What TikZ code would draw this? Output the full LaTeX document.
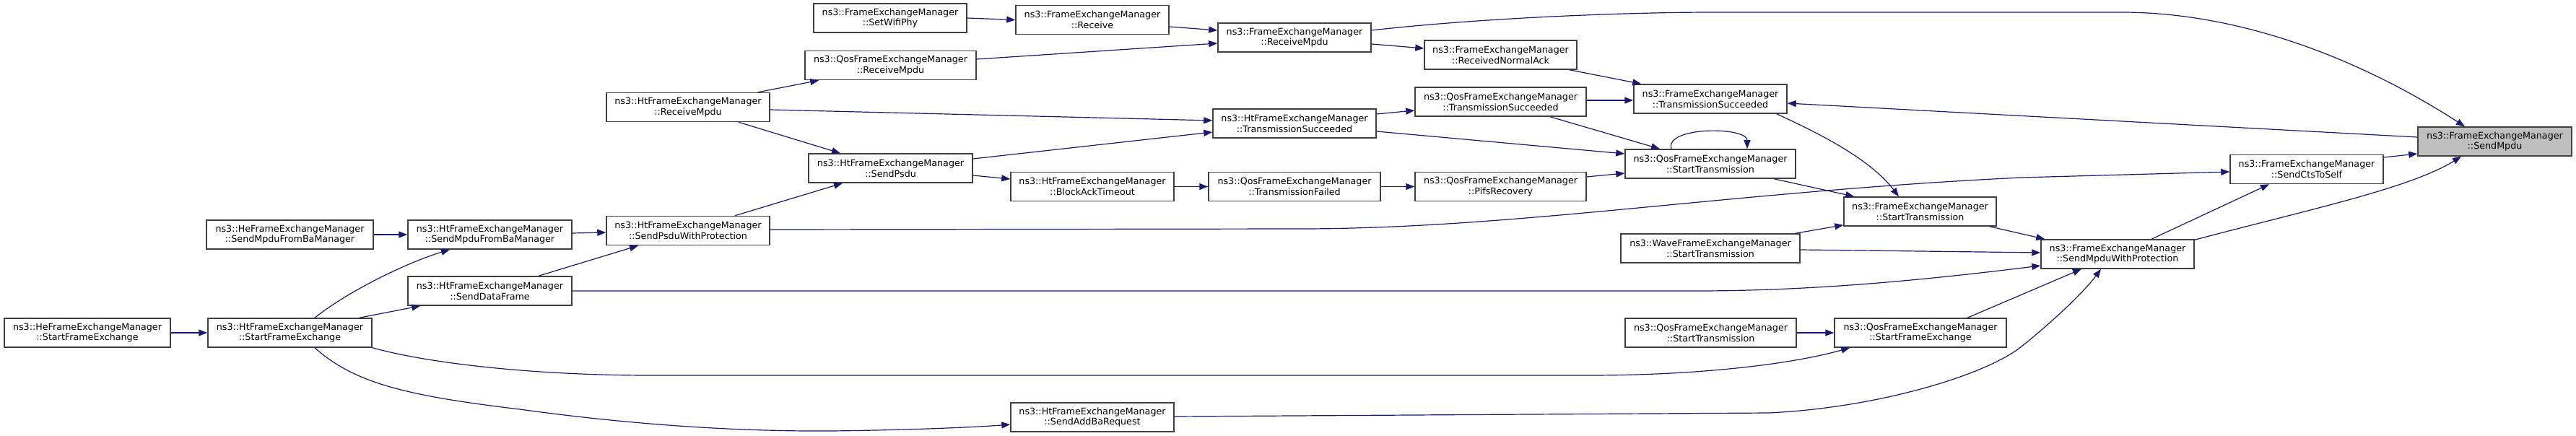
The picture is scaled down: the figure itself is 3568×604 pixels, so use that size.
\documentclass[tikz,border=0pt]{standalone}
\usepackage{fontspec}
\setmainfont{DejaVu Sans}
\usetikzlibrary{arrows.meta,calc}
\definecolor{edgeblue}{HTML}{191970}
\definecolor{boxgray}{HTML}{404040}
\definecolor{hlgray}{HTML}{BFBFBF}
\begin{document}
\begin{tikzpicture}[x=1pt,y=-1pt,
  fn/.style={draw=boxgray, line width=1.5pt, fill=white, minimum height=40pt, inner sep=0pt, align=center, font=\fontsize{12.7}{14.7}\selectfont},
  cl/.style={draw=edgeblue, line width=1.2pt, -{Triangle[length=12pt,width=9pt]}, fill=none},
]
\useasboundingbox (0,0) rectangle (3568,604);

\node[fn, minimum width=230pt] (heSFE) at (121,461) {ns3::HeFrameExchangeManager\\::StartFrameExchange};
\node[fn, minimum width=227pt] (htSFE) at (401.5,461) {ns3::HtFrameExchangeManager\\::StartFrameExchange};
\node[fn, minimum width=231pt] (heSMFB) at (401.5,325) {ns3::HeFrameExchangeManager\\::SendMpduFromBaManager};
\node[fn, minimum width=227pt] (htSMFB) at (678.5,325) {ns3::HtFrameExchangeManager\\::SendMpduFromBaManager};
\node[fn, minimum width=227pt] (htSDF) at (678.5,403) {ns3::HtFrameExchangeManager\\::SendDataFrame};
\node[fn, minimum width=226pt] (htSPWP) at (953,319.5) {ns3::HtFrameExchangeManager\\::SendPsduWithProtection};
\node[fn, minimum width=226pt] (htRM) at (953,148.5) {ns3::HtFrameExchangeManager\\::ReceiveMpdu};
\node[fn, minimum width=212pt] (setWP) at (1233,25) {ns3::FrameExchangeManager\\::SetWifiPhy};
\node[fn, minimum width=212pt] (recv) at (1513,27.5) {ns3::FrameExchangeManager\\::Receive};
\node[fn, minimum width=212pt] (recvMpdu) at (1793,52) {ns3::FrameExchangeManager\\::ReceiveMpdu};
\node[fn, minimum width=237pt] (qosRM) at (1233.5,90.5) {ns3::QosFrameExchangeManager\\::ReceiveMpdu};
\node[fn, minimum width=226pt] (htTS) at (1793,171) {ns3::HtFrameExchangeManager\\::TransmissionSucceeded};
\node[fn, minimum width=227pt] (htSP) at (1233.5,233) {ns3::HtFrameExchangeManager\\::SendPsdu};
\node[fn, minimum width=226pt] (htBAT) at (1513,258.5) {ns3::HtFrameExchangeManager\\::BlockAckTimeout};
\node[fn, minimum width=238pt] (qosTF) at (1793,258.5) {ns3::QosFrameExchangeManager\\::TransmissionFailed};
\node[fn, minimum width=226pt] (htSABR) at (1513,578) {ns3::HtFrameExchangeManager\\::SendAddBaRequest};
\node[fn, minimum width=211pt] (recvNA) at (2078.5,76) {ns3::FrameExchangeManager\\::ReceivedNormalAck};
\node[fn, minimum width=237pt] (qosTS) at (2078.5,141) {ns3::QosFrameExchangeManager\\::TransmissionSucceeded};
\node[fn, minimum width=212pt] (femTS) at (2369,137) {ns3::FrameExchangeManager\\::TransmissionSucceeded};
\node[fn, minimum width=236pt] (qosST) at (2369,227) {ns3::QosFrameExchangeManager\\::StartTransmission};
\node[fn, minimum width=237pt] (qosPR) at (2078.5,258.5) {ns3::QosFrameExchangeManager\\::PifsRecovery};
\node[fn, minimum width=211pt] (femST) at (2659.5,293) {ns3::FrameExchangeManager\\::StartTransmission};
\node[fn, minimum width=248pt] (waveST) at (2369,344) {ns3::WaveFrameExchangeManager\\::StartTransmission};
\node[fn, minimum width=237pt] (qosST2) at (2369.5,461) {ns3::QosFrameExchangeManager\\::StartTransmission};
\node[fn, minimum width=238pt] (qosSFE) at (2660,461) {ns3::QosFrameExchangeManager\\::StartFrameExchange};
\node[fn, minimum width=213pt, fill=hlgray] (sendMpdu) at (3455.5,196) {ns3::FrameExchangeManager\\::SendMpdu};
\node[fn, minimum width=212pt] (ctsSelf) at (3195,234.5) {ns3::FrameExchangeManager\\::SendCtsToSelf};
\node[fn, minimum width=212pt] (smwp) at (2933,352) {ns3::FrameExchangeManager\\::SendMpduWithProtection};

\draw[cl] (setWP.east) -- (recv.west);
\draw[cl] ($(recv.east)+(0,9.5)$) -- ($(recvMpdu.west)+(0,-10)$);
\draw[cl] ($(qosRM.east)+(0,-8.5)$) -- ($(recvMpdu.west)+(0,8)$);
\draw[cl] ($(htRM.north)+(97,0)$) -- ($(qosRM.south west)+(20,0)$);
\draw[cl] ($(htRM.east)+(0,3.5)$) -- ($(htTS.west)+(0,-4)$);
\draw[cl] ($(htRM.south)+(70,0)$) -- ($(htSP.north)+(-69.5,0)$);
\draw[cl] ($(htSPWP.north)+(65,0)$) -- ($(htSP.south)+(-66.5,0)$);
\draw[cl] ($(htSP.east)+(0,-13)$) -- ($(htTS.west)+(0,12)$);
\draw[cl] ($(htSP.east)+(0,10)$) -- ($(htBAT.west)+(0,-10.5)$);
\draw[cl] (htBAT.east) -- (qosTF.west);
\draw[cl] (qosTF.east) -- (qosPR.west);
\draw[cl] ($(qosPR.east)+(0,-13.5)$) -- ($(qosST.west)+(0,13)$);
\draw[cl] ($(recvMpdu.east)+(0,9)$) -- ($(recvNA.west)+(0,-9)$);
\draw[cl] ($(recvMpdu.east)+(0,-10)$) .. controls (2050,25) and (2250,17) .. (2374,17) -- (2938,17) .. controls (3120,17) and (3290,95) .. ($(sendMpdu.north)+(-41.5,0)$);
\draw[cl] ($(recvNA.south east)+(-11,0)$) -- ($(femTS.north west)+(11,0)$);
\draw[cl] ($(htTS.east)+(0,-13)$) -- ($(qosTS.west)+(0,12)$);
\draw[cl] ($(htTS.east)+(0,11)$) -- ($(qosST.west)+(0,-14)$);
\draw[cl] ($(qosTS.east)+(0,-2)$) -- ($(femTS.west)+(0,2)$);
\draw[cl] ($(qosTS.south)+(68.5,0)$) -- ($(qosST.north)+(-70,0)$);
\draw[cl] ($(qosST.north)+(-54,0)$) .. controls (2305,175) and (2420,175) .. ($(qosST.north)+(51,0)$);
\draw[cl] ($(qosST.south)+(88,0)$) -- ($(femST.north west)+(15,0)$);
\draw[cl] ($(femTS.south east)+(-15,0)$) .. controls (2520,185) and (2590,220) .. ($(femST.north)+(-29.5,0)$);
\draw[cl] ($(sendMpdu.west)+(0,-6)$) -- ($(femTS.east)+(0,6)$);
\draw[cl] ($(htSPWP.east)+(0,-1.5)$) -- (1800,317) .. controls (2100,317) and (2400,265) .. (2800,246) -- ($(ctsSelf.west)+(0,3.5)$);
\draw[cl] ($(ctsSelf.east)+(0,-16.5)$) -- ($(sendMpdu.west)+(0,17)$);
\draw[cl] ($(smwp.north)+(47,0)$) -- ($(ctsSelf.south)+(-52,0)$);
\draw[cl] ($(smwp.north east)+(0,1)$) .. controls (3200,290) and (3340,260) .. ($(sendMpdu.south)+(-46.5,0)$);
\draw[cl] ($(femST.south east)+(-10,0)$) -- ($(smwp.north west)+(6,0)$);
\draw[cl] ($(waveST.north east)+(-7,0)$) -- ($(femST.south west)+(0,-2)$);
\draw[cl] ($(waveST.east)+(0,2)$) -- ($(smwp.west)+(0,-2)$);
\draw[cl] (htSDF.east) -- (2350,403) .. controls (2500,403) and (2650,390) .. ($(smwp.west)+(0,16)$);
\draw[cl] ($(htSFE.north)+(34.5,0)$) .. controls (480,405) and (560,365) .. ($(htSMFB.south)+(-55.5,0)$);
\draw[cl] ($(htSFE.north east)+(-18,0)$) -- ($(htSDF.south west)+(18,0)$);
\draw[cl] (heSFE.east) -- (htSFE.west);
\draw[cl] (heSMFB.east) -- (htSMFB.west);
\draw[cl] ($(htSMFB.east)+(0,-2)$) -- ($(htSPWP.west)+(0,2.5)$);
\draw[cl] ($(htSDF.north)+(67.5,0)$) -- ($(htSPWP.south)+(-69,0)$);
\draw[cl] (htSFE.south east) .. controls (600,505) and (750,520) .. (900,520) -- (2200,520) .. controls (2350,520) and (2480,505) .. ($(qosSFE.south west)+(22,0)$);
\draw[cl] ($(htSFE.south)+(34.5,0)$) .. controls (490,530) and (560,548) .. (720,567) .. controls (850,585) and (1000,598) .. (1150,597) .. controls (1250,596) and (1350,592) .. ($(htSABR.west)+(0,10)$);
\draw[cl] ($(htSABR.east)+(0,-1)$) -- (2450,572) .. controls (2600,565) and (2750,520) .. (2800,480) .. controls (2850,440) and (2890,400) .. ($(smwp.south)+(-23,0)$);
\draw[cl] (qosST2.east) -- (qosSFE.west);
\draw[cl] ($(qosSFE.north)+(65,0)$) -- ($(smwp.south)+(-50,0)$);
\end{tikzpicture}
\end{document}
